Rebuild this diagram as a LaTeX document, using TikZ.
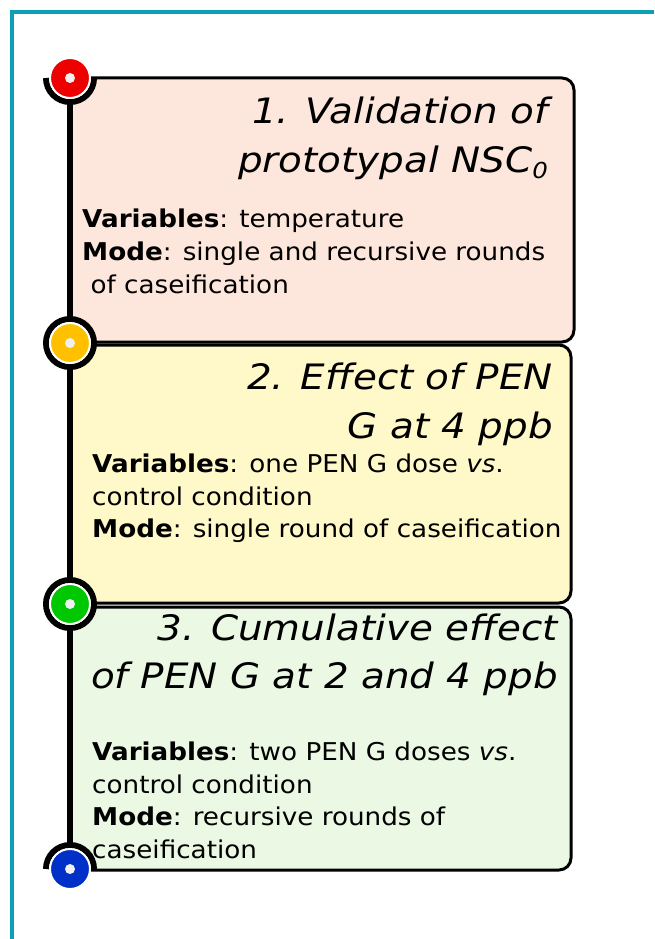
\documentclass[tikz,border=0pt]{standalone}
\usepackage{fontspec}
\setmainfont[FakeStretch=1.07]{DejaVu Sans}
\newfontfamily\headfont[FakeStretch=1.11]{DejaVu Sans}
\definecolor{frameteal}{HTML}{0AA0B6}
\definecolor{boxone}{HTML}{FDE6DC}
\definecolor{boxtwo}{HTML}{FFF8C8}
\definecolor{boxthree}{HTML}{EBF8E4}
\definecolor{dotred}{HTML}{EE0000}
\definecolor{dotorange}{HTML}{FFC000}
\definecolor{dotgreen}{HTML}{00C800}
\definecolor{dotblue}{HTML}{0030C8}
\definecolor{dotcore}{HTML}{F0F0F0}
\tikzset{
  stagebox/.style={draw=black, line width=3pt, rounded corners=12pt},
  titleline/.style={inner sep=0pt, font=\headfont\fontsize{35}{40}\selectfont\itshape},
  bodyline/.style={inner sep=0pt, font=\fontsize{24.5}{33}\selectfont},
  ring/.style={draw=black, line width=6pt},
  dotfill/.style={draw=white, line width=2pt},
}
\newcommand{\subzero}{\raisebox{-0.32ex}{\fontsize{22}{24}\selectfont 0}}
\begin{document}
\begin{tikzpicture}[x=1pt,y=-1pt]
\useasboundingbox (0,0) rectangle (654,939);
% outer frame
\draw[frameteal, line width=4pt] (12,939) -- (12,12) -- (654,12);

% stage boxes
\draw[stagebox, fill=boxone] (70,78) rectangle (574,342);
\draw[stagebox, fill=boxtwo] (70,345) rectangle (571,603);
\draw[stagebox, fill=boxthree] (70,607) rectangle (571,870);

% stage 1 text
\node[titleline, anchor=base east] (t1a) at (548,124) {1. Validation of};
\node[titleline, anchor=base east] (t1b) at (548,172) {prototypal NSC\subzero};
\node[bodyline, anchor=base west] (b1a) at (82,227) {\textbf{Variables}: temperature};
\node[bodyline, anchor=base west] (b1b) at (82,260) {\textbf{Mode}: single and recursive rounds};
\node[bodyline, anchor=base west] (b1c) at (82,293) {\ of caseification};

% stage 2 text
\node[titleline, anchor=base east] (t2a) at (553,389) {2. Effect of PEN};
\node[titleline, anchor=base east] (t2b) at (553,438) {G at 4 ppb};
\node[bodyline, anchor=base west] (b2a) at (92,472) {\textbf{Variables}: one PEN G dose \textit{vs}.};
\node[bodyline, anchor=base west] (b2b) at (92,505) {control condition};
\node[bodyline, anchor=base west] (b2c) at (92,537) {\textbf{Mode}: single round of caseification};

% stage 3 text
\node[titleline, anchor=base east] (t3a) at (558,640) {3. Cumulative effect};
\node[titleline, anchor=base east] (t3b) at (558,688) {of PEN G at 2 and 4 ppb};
\node[bodyline, anchor=base west] (b3a) at (92,760) {\textbf{Variables}: two PEN G doses \textit{vs}.};
\node[bodyline, anchor=base west] (b3b) at (92,793) {control condition};
\node[bodyline, anchor=base west] (b3c) at (92,825) {\textbf{Mode}: recursive rounds of};
\node[bodyline, anchor=base west] (b3d) at (92,858) {caseification};

% timeline
\coordinate (m1) at (70,78);
\coordinate (m2) at (70,343);
\coordinate (m3) at (70,604);
\coordinate (m4) at (70,869);
\draw[black, line width=6pt] (m1) -- (m4);

% milestone 1: cup below
\draw[ring] ([xshift=-24pt]m1) arc[start angle=180, end angle=360, radius=24pt];
\draw[dotfill, fill=dotred] (m1) circle[radius=20pt];
\fill[dotcore] (m1) circle[radius=5pt];
% milestone 2
\draw[ring] (m2) circle[radius=24pt];
\draw[dotfill, fill=dotorange] (m2) circle[radius=20pt];
\fill[dotcore] (m2) circle[radius=5pt];
% milestone 3
\draw[ring] (m3) circle[radius=24pt];
\draw[dotfill, fill=dotgreen] (m3) circle[radius=20pt];
\fill[dotcore] (m3) circle[radius=5pt];
% milestone 4: cap above
\draw[ring] ([xshift=24pt]m4) arc[start angle=0, end angle=180, radius=24pt];
\draw[dotfill, fill=dotblue] (m4) circle[radius=20pt];
\fill[dotcore] (m4) circle[radius=5pt];
\end{tikzpicture}
\end{document}
